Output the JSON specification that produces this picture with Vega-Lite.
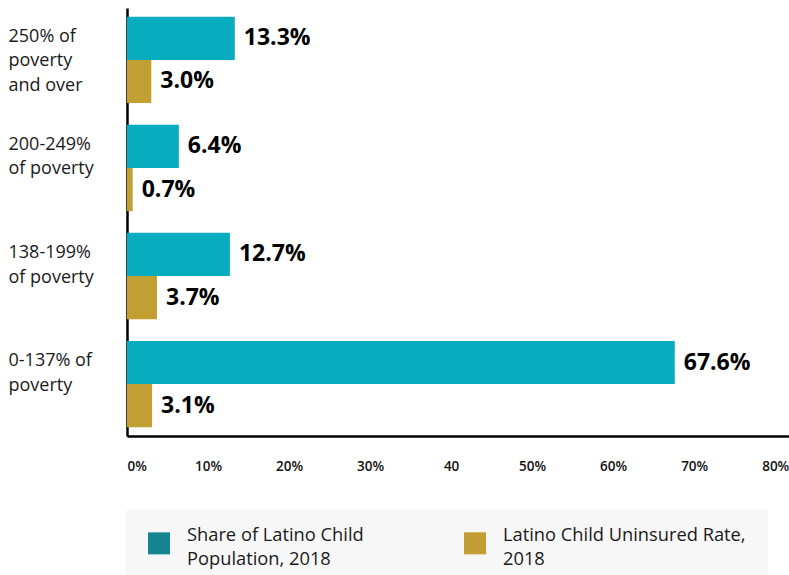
{
  "$schema": "https://vega.github.io/schema/vega-lite/v6.json",
  "autosize": {"type": "none"},
  "padding": {"left": 127, "top": 8, "right": 0, "bottom": 139},
  "width": 662,
  "height": 428,
  "background": "white",
  "config": {"view": {"stroke": null}, "font": "Open Sans"},
  "data": {"values": [
    {"cat": "250% of|poverty|and over", "series": "Share of Latino Child Population, 2018", "value": 0.133},
    {"cat": "250% of|poverty|and over", "series": "Latino Child Uninsured Rate, 2018", "value": 0.030},
    {"cat": "200-249%|of poverty", "series": "Share of Latino Child Population, 2018", "value": 0.064},
    {"cat": "200-249%|of poverty", "series": "Latino Child Uninsured Rate, 2018", "value": 0.007},
    {"cat": "138-199%|of poverty", "series": "Share of Latino Child Population, 2018", "value": 0.127},
    {"cat": "138-199%|of poverty", "series": "Latino Child Uninsured Rate, 2018", "value": 0.037},
    {"cat": "0-137% of|poverty", "series": "Share of Latino Child Population, 2018", "value": 0.676},
    {"cat": "0-137% of|poverty", "series": "Latino Child Uninsured Rate, 2018", "value": 0.031}
  ]},
  "encoding": {
    "y": {
      "field": "cat", "type": "nominal",
      "sort": ["250% of|poverty|and over", "200-249%|of poverty", "138-199%|of poverty", "0-137% of|poverty"],
      "scale": {"paddingInner": 0.2, "paddingOuter": 0.08},
      "axis": {
        "title": null, "ticks": false, "labelPadding": 119, "labelAlign": "left",
        "labelBaseline": "middle", "labelOffset": -23,
        "labelExpr": "split(datum.label, '|')",
        "labelFont": "Open Sans", "labelFontSize": 18, "labelColor": "#1a1a1a", "labelLineHeight": 24.5,
        "domainColor": "#000000", "domainWidth": 2.5, "labelLimit": 200
      }
    },
    "yOffset": {
      "field": "series", "type": "nominal",
      "sort": ["Share of Latino Child Population, 2018", "Latino Child Uninsured Rate, 2018"],
      "scale": {"paddingInner": 0, "paddingOuter": 0}
    },
    "x": {
      "field": "value", "type": "quantitative",
      "scale": {"domain": [0, 0.817], "nice": false, "zero": true},
      "axis": {
        "title": null, "values": [0, 0.1, 0.2, 0.3, 0.4, 0.5, 0.6, 0.7, 0.8],
        "labelExpr": "datum.value == 0.4 ? '40' : format(datum.value, '.0%')",
        "ticks": false, "grid": false, "labelPadding": 23,
        "labelFont": "Open Sans", "labelFontSize": 13.5, "labelFontWeight": 600, "labelColor": "#111111",
        "domainColor": "#000000", "domainWidth": 2.5
      }
    }
  },
  "layer": [
    {
      "mark": {"type": "bar"},
      "encoding": {
        "color": {
          "field": "series", "type": "nominal",
          "scale": {"domain": ["Latino Child Uninsured Rate, 2018", "Share of Latino Child Population, 2018"], "range": ["#C29F32", "#08ACBF"]},
          "legend": null
        }
      }
    },
    {
      "transform": [{"filter": "false"}],
      "mark": {"type": "square", "filled": true, "size": 484},
      "encoding": {
        "fill": {
          "field": "series", "type": "nominal",
          "scale": {"domain": ["Share of Latino Child Population, 2018", "Latino Child Uninsured Rate, 2018"], "range": ["#158490", "#C39D33"]},
          "legend": {
            "title": null, "orient": "none", "legendX": -1, "legendY": 502,
            "direction": "horizontal", "fillColor": "#F7F7F7",
            "padding": 22, "columnPadding": 100,
            "symbolType": "square", "symbolSize": 484, "symbolStrokeWidth": 0, "symbolOpacity": 1,
            "labelOffset": 17, "labelFont": "Open Sans", "labelFontSize": 18.3, "labelColor": "#1a1a1a",
            "labelLimit": 400, "labelBaseline": "middle",
            "labelExpr": "datum.label == 'Share of Latino Child Population, 2018' ? ['Share of Latino Child', 'Population, 2018'] : ['Latino Child Uninsured Rate,', '2018']",
            "encode": {
              "labels": {"update": {"lineHeight": {"value": 24}, "dy": {"value": -7}}}
            }
          }
        }
      }
    },
    {
      "mark": {"type": "text", "align": "left", "baseline": "middle", "dx": 9, "font": "Open Sans", "fontSize": 23, "fontWeight": "bold", "color": "#000000"},
      "encoding": {
        "text": {"field": "value", "type": "quantitative", "format": ".1%"}
      }
    }
  ]
}
